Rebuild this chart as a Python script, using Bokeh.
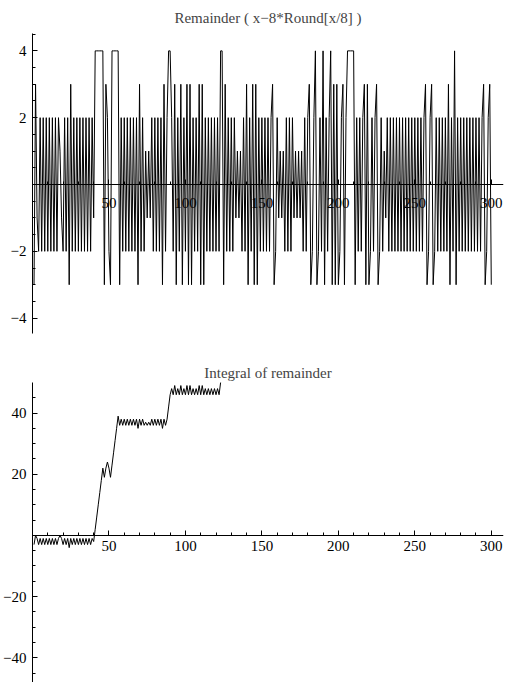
import numpy as np
from bokeh.plotting import figure
from bokeh.layouts import column
from bokeh.models import Range1d, FixedTicker
from bokeh.embed import file_html
from bokeh.resources import INLINE

# ---- data (x = 1..300) ----
remainder = [
    -3, 3, -1, -2, 2, -2, 2, -2, 2, -2,
    2, -2, 2, -2, 2, -2, 2, 1, -1, -2,
    2, -2, 2, -3, 3, -2, 2, -2, 2, -2,
    2, -2, 2, -2, 2, -2, 2, -2, 2, -1,
    4, 4, 4, 4, 4, 4, -3, 3, 2, -2,
    -3, 4, 4, 4, 4, 4, -3, 2, -2, 2,
    -2, 2, -2, 2, -2, 2, -2, 2, -3, 3,
    -2, 2, -2, 1, -1, 1, -1, 2, -2, 2,
    -2, 2, -2, 2, -3, 3, -2, 2, 4, 4,
    2, -2, 3, -3, 2, -2, 3, -3, 2, -2,
    3, -3, 3, -3, 2, -2, 2, -2, 3, -3,
    3, -3, 2, -2, 2, -2, 2, -2, 2, -2,
    2, -2, 4, 4, -3, 3, -2, 2, -2, 2,
    -2, 2, -1, 1, -1, 1, -2, 2, -2, 3,
    -3, 2, -2, 3, -3, 3, -3, 2, -2, 2,
    -2, 2, -2, 2, -2, 2, 3, -3, -2, 2,
    -1, 1, -1, 1, -2, 2, -2, 2, -2, 2,
    -1, 1, -1, 1, -1, 1, -2, 2, -2, 2,
    3, -3, -2, 2, 4, -3, -2, 2, -2, 4,
    -3, 2, -2, 2, 4, -3, 3, -3, 3, -3,
    -2, 2, 3, -3, 2, 4, 4, 4, 4, 4,
    -3, 2, -2, 2, -2, 2, 3, -3, 3, -3,
    -2, 2, -2, 2, 3, -3, -2, 2, -2, 1,
    -1, 2, -2, 2, -2, 2, -2, 2, -2, 2,
    -2, 2, -2, 2, -2, 2, -2, 2, -2, 2,
    -2, 2, -2, 2, -2, 2, 3, -3, -2, 2,
    3, -3, -2, 2, -2, 2, -2, 2, -2, 2,
    -2, 3, -3, 2, -2, 4, -3, 2, -2, 2,
    -2, 2, -2, 2, -2, 2, -2, 2, -2, 2,
    -2, 2, -2, 2, 3, -3, -2, 2, 3, -3,
]
xs = list(range(1, len(remainder) + 1))
integral = np.cumsum(remainder)

title_top = "Remainder ( x\u22128*Round[x/8] )"
title_bottom = "Integral of remainder"

x_major = [50, 100, 150, 200, 250, 300]
x_minor = [10, 20, 30, 40, 60, 70, 80, 90, 110, 120, 130, 140, 160, 170, 180, 190,
           210, 220, 230, 240, 260, 270, 280, 290, 300]
top_y_major = [-4, -2, 2, 4]
top_y_minor = [-4.5, -3.5, -3, -2.5, -1.5, -1, -0.5, 0.5, 1, 1.5, 2.5, 3, 3.5, 4.5]
bot_y_major = [-40, -20, 20, 40]
bot_y_minor = [-45, -35, -30, -25, -15, -10, -5, 5, 10, 15, 25, 30, 35, 45]

FONT = "Liberation Serif"


def style(p, ymajor, yminor, x_standoff, title_standoff):
    p.title.text_font = FONT
    p.title.text_font_style = "normal"
    p.title.text_font_size = "15px"
    p.title.align = "center"
    p.title.standoff = title_standoff
    p.grid.visible = False
    p.outline_line_color = None
    p.xaxis.fixed_location = 0
    for ax in (p.xaxis[0], p.yaxis[0]):
        ax.axis_line_color = "black"
        ax.axis_line_width = 1
        ax.major_tick_line_color = "black"
        ax.minor_tick_line_color = "black"
        ax.major_tick_in = 5
        ax.major_tick_out = 0
        ax.minor_tick_in = 3
        ax.minor_tick_out = 0
        ax.major_label_text_font = FONT
        ax.major_label_text_font_size = "15px"
        ax.major_label_text_color = "black"
    p.xaxis.ticker = FixedTicker(ticks=x_major, minor_ticks=x_minor)
    p.yaxis.ticker = FixedTicker(ticks=ymajor, minor_ticks=yminor)
    p.xaxis.major_label_standoff = x_standoff
    p.yaxis.major_label_standoff = 6
    p.yaxis.major_label_overrides = {v: ("\u2212" + str(abs(v)) if v < 0 else str(v)) for v in ymajor}


p1 = figure(width=505, height=338, output_backend="svg", toolbar_location=None,
            title=title_top, x_range=Range1d(0, 308), y_range=Range1d(-4.46, 4.52),
            min_border_left=30, min_border_right=2, min_border_top=0, min_border_bottom=5)
p1.line(xs, remainder, line_color="black", line_width=1.0)
style(p1, top_y_major, top_y_minor, 13, 15)

p2 = figure(width=505, height=344, output_backend="svg", toolbar_location=None,
            title=title_bottom, x_range=Range1d(0, 308), y_range=Range1d(-48.1, 50),
            min_border_left=30, min_border_right=2, min_border_top=44, min_border_bottom=0)
p2.line(xs, integral, line_color="black", line_width=1)
style(p2, bot_y_major, bot_y_minor, 6, 3)

layout = column(p1, p2, spacing=0)
open("out.html", "w").write(file_html(layout, INLINE))
